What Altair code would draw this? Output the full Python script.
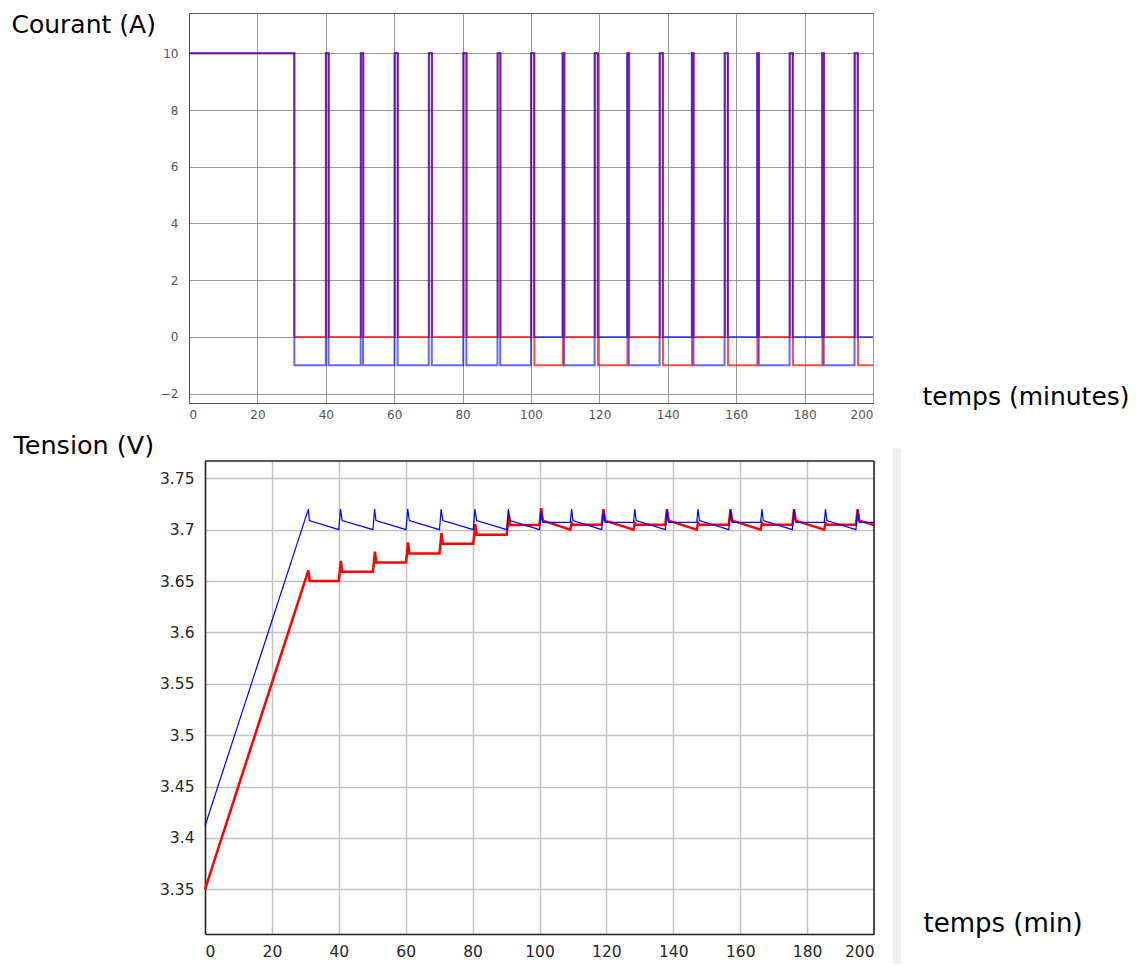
import altair as alt
import pandas as pd

# ---------------- data ----------------
# Current (A), step-after series
t_cur_blue = [0, 30.8, 40.0, 40.8, 50.2, 50.9, 60.1, 61.0, 70.1, 71.0, 80.2, 81.1,
              90.2, 91.0, 100.0, 100.9, 109.2, 109.7, 118.6, 119.5, 128.1, 128.6,
              137.6, 138.5, 147.0, 147.5, 156.6, 157.5, 166.1, 166.6, 175.6, 176.5,
              185.1, 185.6, 194.6, 195.5, 200.0]
i_blue = [10, -1, 10, -1, 10, -1, 10, -1, 10, -1, 10, -1,
          10, -1, 10, 0, 10, -1, 10, 0, 10, -1,
          10, 0, 10, -1, 10, 0, 10, -1, 10, 0,
          10, -1, 10, 0, 0]

t_cur_red = [0, 30.8, 40.1, 40.9, 50.3, 51.0, 60.2, 61.1, 70.2, 71.1, 80.3, 81.2,
             90.3, 91.1, 100.1, 101.0, 109.3, 109.8, 118.7, 119.6, 128.2, 128.7,
             137.7, 138.6, 147.1, 147.6, 156.7, 157.6, 166.2, 166.7, 175.7, 176.6,
             185.2, 185.7, 194.7, 195.6, 200.0]
i_red = [10, 0, 10, 0, 10, 0, 10, 0, 10, 0, 10, 0,
         10, 0, 10, -1, 10, 0, 10, -1, 10, 0,
         10, -1, 10, 0, 10, -1, 10, 0, 10, -1,
         10, 0, 10, -1, -1]

# Voltage (V)
t_v_blue = [0, 30.9, 31.2, 40.0, 40.5, 41.0, 50.2, 50.7, 51.1, 60.1, 60.6, 61.1,
            70.1, 70.6, 71.1, 80.2, 80.7, 81.2, 90.2, 90.7, 91.2, 100.0, 100.5, 101.0,
            109.2, 109.6, 110.0, 118.6, 119.1, 119.6, 128.1, 128.5, 128.9,
            137.6, 138.1, 138.6, 147.0, 147.4, 147.8, 156.6, 157.1, 157.6,
            166.1, 166.5, 166.9, 175.6, 176.1, 176.6, 185.1, 185.5, 185.9,
            194.6, 195.1, 195.6, 200.0]
v_blue = [3.4116, 3.7200, 3.7088, 3.7000, 3.7200, 3.7088, 3.7000, 3.7200, 3.7088,
          3.7000, 3.7200, 3.7088, 3.7000, 3.7200, 3.7088, 3.7000, 3.7200, 3.7088,
          3.7000, 3.7200, 3.7088, 3.7000, 3.7186, 3.7070,
          3.7070, 3.7200, 3.7088, 3.7000, 3.7190, 3.7070, 3.7070, 3.7200, 3.7088,
          3.7000, 3.7190, 3.7070, 3.7070, 3.7200, 3.7088, 3.7000, 3.7190, 3.7070,
          3.7070, 3.7200, 3.7088, 3.7000, 3.7190, 3.7070, 3.7070, 3.7200, 3.7088,
          3.7000, 3.7190, 3.7070, 3.7070]

t_v_red = [0, 30.9, 31.3, 40.0, 40.6, 41.0, 50.2, 50.8, 51.2, 60.1, 60.7, 61.1,
           70.1, 70.7, 71.1, 80.2, 80.8, 81.2, 90.2, 90.8, 91.2, 100.0, 100.5, 101.0,
           109.2, 109.6, 110.0, 118.6, 119.1, 119.6, 128.1, 128.5, 128.9,
           137.6, 138.1, 138.6, 147.0, 147.4, 147.8, 156.6, 157.1, 157.6,
           166.1, 166.5, 166.9, 175.6, 176.1, 176.6, 185.1, 185.5, 185.9,
           194.6, 195.1, 195.6, 200.0]
v_red = [3.3500, 3.6603, 3.6500, 3.6500, 3.6697, 3.6590, 3.6590, 3.6785, 3.6680,
         3.6680, 3.6875, 3.6768, 3.6768, 3.6966, 3.6862, 3.6862, 3.7053, 3.6950,
         3.6950, 3.7144, 3.7044, 3.7044, 3.7209, 3.7088,
         3.7000, 3.7065, 3.7047, 3.7047, 3.7200, 3.7088, 3.7000, 3.7065, 3.7047,
         3.7047, 3.7200, 3.7088, 3.7000, 3.7065, 3.7047, 3.7047, 3.7200, 3.7088,
         3.7000, 3.7065, 3.7047, 3.7047, 3.7200, 3.7088, 3.7000, 3.7065, 3.7047,
         3.7047, 3.7200, 3.7088, 3.7045]

x_ticks = [0, 20, 40, 60, 80, 100, 120, 140, 160, 180, 200]
y_ticks_cur = [-2, 0, 2, 4, 6, 8, 10]
y_ticks_v = [3.35, 3.4, 3.45, 3.5, 3.55, 3.6, 3.65, 3.7, 3.75]

T_DOMAIN = [0, 200]
I_DOMAIN = [-2.33, 11.42]
V_DOMAIN = [3.3065, 3.7668]
# light grey side band right of the voltage panel (as in the source image)
BAND_T = [205.6, 208.1]
BAND_V = [3.2773, 3.7790]


def frame(ts, vs):
    return pd.DataFrame({"t": ts, "v": vs, "k": list(range(len(ts)))})


TFONT = "DejaVu Sans"

# ---------------- top chart: current ----------------
x_top = alt.X("t:Q", scale=alt.Scale(domain=T_DOMAIN, nice=False, zero=False),
              axis=alt.Axis(values=x_ticks, grid=True, gridColor="#999999", gridWidth=1,
                            domainColor="#555555", ticks=False, tickSize=0,
                            labelFont=TFONT, labelFontSize=12, labelColor="#555555",
                            labelPadding=6, title="temps (minutes)", titleFont=TFONT,
                            titleFontSize=25, titleFontWeight="normal", titleColor="#000000",
                            titleAlign="left", titleBaseline="alphabetic",
                            titleX=733, titleY=1))
y_top = alt.Y("v:Q", scale=alt.Scale(domain=I_DOMAIN, nice=False, zero=False),
              axis=alt.Axis(values=y_ticks_cur, grid=True, gridColor="#999999", gridWidth=1,
                            domainColor="#555555", ticks=False, tickSize=0,
                            labelFont=TFONT, labelFontSize=12, labelColor="#555555",
                            labelPadding=11, title="Courant (A)", titleFont=TFONT,
                            titleFontSize=25, titleFontWeight="normal", titleColor="#000000",
                            titleAngle=0, titleAlign="left", titleBaseline="alphabetic",
                            titleX=-178, titleY=19))

red_cur = alt.Chart(frame(t_cur_red, i_red)).mark_line(
    interpolate="step-after", color="#ff0000", strokeWidth=2, opacity=0.7
).encode(x=x_top, y=y_top, order="k:Q")
blue_cur = alt.Chart(frame(t_cur_blue, i_blue)).mark_line(
    interpolate="step-after", color="#0000ff", strokeWidth=2, opacity=0.6
).encode(x=x_top, y=y_top, order="k:Q")

top = alt.layer(red_cur, blue_cur).properties(
    width=684, height=390,
    view=alt.ViewBackground(stroke="#555555", strokeWidth=1))

# ---------------- bottom chart: voltage ----------------
# plot frame starts 16 px to the right of the top one
BOT_W = 685
x_bot = alt.X("t:Q", scale=alt.Scale(domain=T_DOMAIN, nice=False, zero=False, range=[16, BOT_W]),
              axis=alt.Axis(values=x_ticks, grid=True, gridColor="#c2c2c2", gridWidth=1.5,
                            domainColor="#222222", domainWidth=1.5, ticks=False, tickSize=0,
                            labelFont=TFONT, labelFontSize=15.5, labelColor="#262626",
                            labelPadding=10.5, title="temps (min)", titleFont=TFONT,
                            titleFontSize=26, titleFontWeight="normal", titleColor="#000000",
                            titleAlign="left", titleBaseline="alphabetic",
                            titleX=734, titleY=-3))
y_bot = alt.Y("v:Q", scale=alt.Scale(domain=V_DOMAIN, nice=False, zero=False),
              axis=alt.Axis(values=y_ticks_v, format=".2~f", grid=True, gridColor="#c2c2c2",
                            gridWidth=1.5, domainColor="#222222", domainWidth=1.5,
                            ticks=False, tickSize=0, offset=-16,
                            labelFont=TFONT, labelFontSize=15.5, labelColor="#262626",
                            labelPadding=11, title="Tension (V)", titleFont=TFONT,
                            titleFontSize=25.5, titleFontWeight="normal", titleColor="#000000",
                            titleAngle=0, titleAlign="left", titleBaseline="alphabetic",
                            titleX=-192, titleY=-8))

red_v = alt.Chart(frame(t_v_red, v_red)).mark_line(
    color="#ff0000", strokeWidth=2.5
).encode(x=x_bot, y=y_bot, order="k:Q")
blue_v = alt.Chart(frame(t_v_blue, v_blue)).mark_line(
    color="#0000ff", strokeWidth=1.2
).encode(x=x_bot, y=y_bot, order="k:Q")

one = pd.DataFrame({"a": [0]})
# frame edges (top and right) of the voltage panel, placed through the scales
top_edge = alt.Chart(one).mark_rule(color="#222222", strokeWidth=1.5).encode(
    x=alt.datum(T_DOMAIN[0]), x2=alt.datum(T_DOMAIN[1]), y=alt.datum(V_DOMAIN[1]))
right_edge = alt.Chart(one).mark_rule(color="#222222", strokeWidth=1.5).encode(
    x=alt.datum(T_DOMAIN[1]), y=alt.datum(V_DOMAIN[0]), y2=alt.datum(V_DOMAIN[1]))
side_band = alt.Chart(one).mark_rect(color="#efefef").encode(
    x=alt.datum(BAND_T[0]), x2=alt.datum(BAND_T[1]),
    y=alt.datum(BAND_V[0]), y2=alt.datum(BAND_V[1]))

bottom = alt.layer(side_band, red_v, blue_v, top_edge, right_edge).properties(
    width=BOT_W, height=473,
    view=alt.ViewBackground(strokeWidth=0, stroke="transparent"))

chart = alt.concat(top, bottom, columns=1, spacing=12).properties(
    padding={"left": 2, "top": 3, "right": 0, "bottom": 0},
    background="white",
)

chart.save("out.html", embed_options={"renderer": "svg", "actions": False})
